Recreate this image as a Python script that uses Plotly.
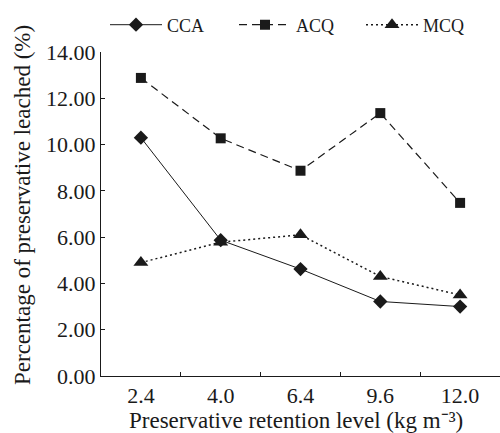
import plotly.graph_objects as go

levels = ["2.4", "4.0", "6.4", "9.6", "12.0"]
cca = [10.3, 5.87, 4.62, 3.22, 3.0]
acq = [12.88, 10.27, 8.87, 11.36, 7.48]
mcq = [4.9, 5.78, 6.1, 4.3, 3.5]
y_ticks = [0, 2, 4, 6, 8, 10, 12, 14]

FONT = "Liberation Serif"
INK = "#1a1a1a"

fig = go.Figure()
fig.add_trace(go.Scatter(x=levels, y=cca, name="CCA", mode="lines+markers", legend="legend",
                         line=dict(color=INK, width=1),
                         marker=dict(symbol="diamond", size=11, color=INK)))
fig.add_trace(go.Scatter(x=levels, y=acq, name="ACQ", mode="lines+markers", legend="legend2",
                         line=dict(color=INK, width=1.2, dash="8px,5px"),
                         marker=dict(symbol="square", size=10, color=INK)))
fig.add_trace(go.Scatter(x=levels, y=mcq, name="MCQ", mode="lines+markers", legend="legend3",
                         line=dict(color=INK, width=1.5, dash="2px,3px"),
                         marker=dict(symbol="triangle-up", size=13, color=INK)))

def leg(px_left):
    return dict(orientation="h", xref="container", yref="container",
                x=px_left / 500, y=1 - 25 / 433, xanchor="left", yanchor="middle",
                font=dict(size=18, family=FONT, color=INK), itemwidth=52,
                bgcolor="rgba(0,0,0,0)", borderwidth=0)

fig.update_layout(
    width=500, height=433,
    margin=dict(l=101, r=0, t=52, b=57, autoexpand=False),
    paper_bgcolor="white", plot_bgcolor="white",
    font=dict(family=FONT, size=22, color=INK),
    showlegend=True,
    legend=leg(105), legend2=leg(234), legend3=leg(361),
    xaxis=dict(type="category", range=[-0.5, 4.5], tickson="boundaries",
               ticks="inside", ticklen=4, tickcolor=INK, showline=True,
               linecolor=INK, linewidth=1, showgrid=False, zeroline=False,
               automargin=False, tickfont=dict(size=22, family=FONT)),
    yaxis=dict(range=[0, 14], tickvals=y_ticks, tickformat=".2f",
               ticks="inside", ticklen=4, tickcolor=INK, showline=True,
               linecolor=INK, linewidth=1, showgrid=False, zeroline=False,
               automargin=False, tickfont=dict(size=22, family=FONT)),
    annotations=[
        dict(text="Percentage of preservative leached (%)", textangle=-90,
             xref="paper", yref="paper", x=(22 - 101) / 399, y=(376 - 205) / 324,
             xanchor="center", yanchor="middle", showarrow=False,
             font=dict(size=23, family=FONT, color=INK)),
        dict(text="Preservative retention level (kg m\u207b\u00b3)",
             xref="paper", yref="paper", x=(296 - 101) / 399, y=-(420 - 376) / 324,
             xanchor="center", yanchor="middle", showarrow=False,
             font=dict(size=23, family=FONT, color=INK)),
    ],
)

fig.write_html("out.html", config={"displayModeBar": False},
               post_script="document.body.style.margin='0';document.body.style.overflow='hidden';")
